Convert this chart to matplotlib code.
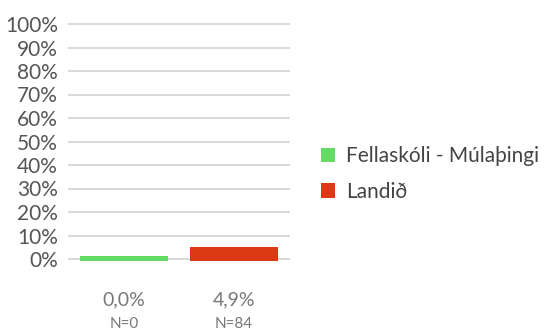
import matplotlib
matplotlib.use("Agg")
import matplotlib.pyplot as plt
from matplotlib.patches import Patch

plt.rcParams['font.family'] = ['Lato', 'DejaVu Sans']

series = ["Fellaskóli - Múlaþingi", "Landið"]
values = [0.0, 4.9]
counts = [0, 84]
colors = ["#64db64", "#dc3814"]
yticks = list(range(0, 101, 10))

W, H = 545, 336
fig = plt.figure(figsize=(W / 100, H / 100), dpi=100)
x0, x1 = 69, 289
y0, y100 = 259, 24
ax = fig.add_axes([x0 / W, (H - y0) / H, (x1 - x0) / W, (y0 - y100) / H])
ax.set_xlim(0, 2)
ax.set_ylim(0, 100)

for y in yticks:
    ax.axhline(y, color="#d9d9d9", lw=1.4, zorder=0, clip_on=False)

base = -0.7
min_visible = 1.9
xs = [0.5, 1.5]
for x, v, c in zip(xs, values, colors):
    h = max(v - base, min_visible)
    ax.bar(x, h, bottom=base, width=0.8, color=c, zorder=2, clip_on=False)

ax.set_yticks(yticks)
ax.set_yticklabels([f"{t}%" for t in yticks], fontsize=15, color="#555555")
ax.tick_params(axis="y", length=0, pad=8)
ax.set_xticks([])
for s in ax.spines.values():
    s.set_visible(False)

pt = 72 / 100  # pixels -> points
for x, v, n in zip(xs, values, counts):
    ax.annotate(f"{v:.1f}%".replace(".", ","), (x, 0), xytext=(0, -41 * pt),
                textcoords="offset points", ha="center", va="center",
                fontsize=14, color="#777777", annotation_clip=False)
    ax.annotate(f"N={n}", (x, 0), xytext=(0, -65 * pt),
                textcoords="offset points", ha="center", va="center",
                fontsize=11, color="#777777", annotation_clip=False)

handles = [Patch(facecolor=c, edgecolor="none") for c in colors]
fig.legend(handles, series, loc="center left", bbox_to_anchor=(302 / W, 1 - 174 / H),
           frameon=False, fontsize=15, handlelength=0.7, handleheight=0.7,
           handletextpad=0.5, labelspacing=0.75, labelcolor="#444444")

fig.savefig("out.png", dpi=100)
